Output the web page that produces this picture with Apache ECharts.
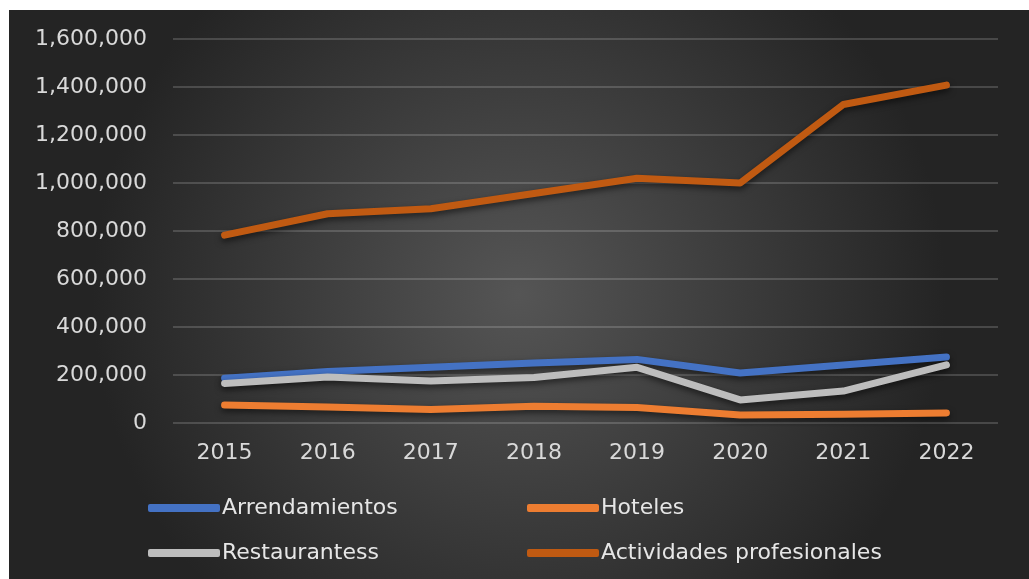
<!DOCTYPE html>
<html>
<head>
<meta charset="utf-8">
<script src="https://cdn.jsdelivr.net/npm/echarts@6/dist/echarts.min.js"></script>
<style>
  html, body { margin: 0; padding: 0; background: #ffffff; }
  #chart { position: absolute; left: 9px; top: 10px; width: 1020px; height: 569px; }
</style>
</head>
<body>
<div id="chart"></div>
<script>
// datos
const years = ['2015', '2016', '2017', '2018', '2019', '2020', '2021', '2022'];
const arrendamientos = [187000, 215000, 232000, 250000, 265000, 208000, 242000, 275000];
const hoteles = [75000, 67000, 56000, 70000, 65000, 33000, 36000, 42000];
const restaurantes = [165000, 192000, 175000, 190000, 232000, 96000, 133000, 242000];
const actividades = [783000, 872000, 893000, 956000, 1020000, 1000000, 1327000, 1408000];

const colors = {
  arr: '#4472c4',
  hot: '#ed7d31',
  res: '#bdbdbd',
  act: '#c05a12'
};

const chart = echarts.init(document.getElementById('chart'));

function lineSeries(name, data, color) {
  return {
    name: name,
    type: 'line',
    data: data,
    symbol: 'none',
    itemStyle: { color: color },
    lineStyle: {
      width: 7,
      color: color,
      cap: 'round',
      join: 'round',
      shadowColor: 'rgba(0,0,0,0.55)',
      shadowBlur: 6,
      shadowOffsetY: 3
    }
  };
}

const legendText = { color: '#e6e6e6', fontSize: 22, lineHeight: 22, fontFamily: 'DejaVu Sans', padding: [0, 0, 0, -3] };

chart.setOption({
  backgroundColor: {
    type: 'radial', x: 0.5, y: 0.5, r: 0.75,
    colorStops: [
      { offset: 0, color: '#555555' },
      { offset: 1, color: '#242424' }
    ]
  },
  animation: false,
  grid: { left: 164, right: 31, top: 29, bottom: 156 },
  xAxis: {
    type: 'category',
    data: years,
    boundaryGap: true,
    axisLine: { show: false },
    axisTick: { show: false },
    axisLabel: { color: '#d9d9d9', fontSize: 22, fontFamily: 'DejaVu Sans', margin: 19 }
  },
  yAxis: {
    type: 'value',
    min: 0,
    max: 1600000,
    interval: 200000,
    axisLine: { show: false },
    axisTick: { show: false },
    splitLine: { lineStyle: { color: 'rgba(255,255,255,0.22)', width: 1.5 } },
    axisLabel: {
      color: '#d9d9d9', fontSize: 22, fontFamily: 'DejaVu Sans', margin: 26,
      formatter: v => v.toLocaleString('en-US')
    }
  },
  legend: [
    {
      data: ['Arrendamientos', 'Restaurantess'],
      orient: 'vertical',
      left: 139, top: 487, padding: 0,
      itemWidth: 72, itemHeight: 8, itemGap: 23,
      icon: 'roundRect',
      textStyle: legendText
    },
    {
      data: ['Hoteles', 'Actividades profesionales'],
      orient: 'vertical',
      left: 518, top: 487, padding: 0,
      itemWidth: 72, itemHeight: 8, itemGap: 23,
      icon: 'roundRect',
      textStyle: legendText
    }
  ],
  series: [
    lineSeries('Arrendamientos', arrendamientos, colors.arr),
    lineSeries('Hoteles', hoteles, colors.hot),
    lineSeries('Restaurantess', restaurantes, colors.res),
    lineSeries('Actividades profesionales', actividades, colors.act)
  ]
});
</script>
</body>
</html>
